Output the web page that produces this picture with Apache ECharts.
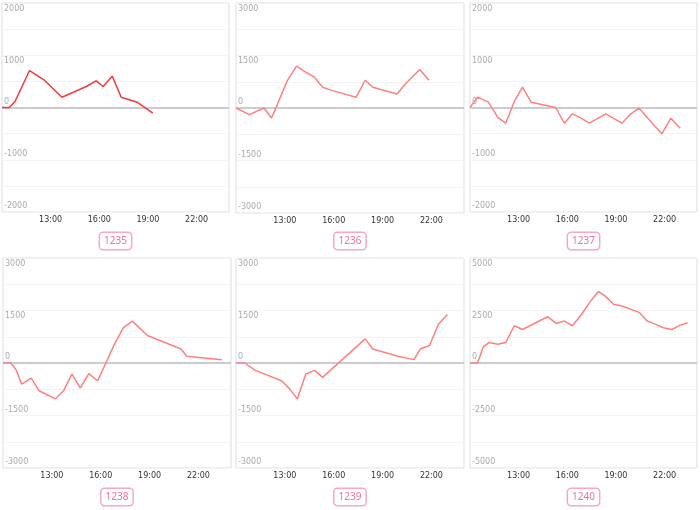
<!DOCTYPE html>
<html>
<head>
<meta charset="utf-8">
<script src="https://cdn.jsdelivr.net/npm/echarts@6/dist/echarts.min.js"></script>
<style>html,body{margin:0;padding:0;background:#fff}#c{width:700px;height:510px}</style>
</head>
<body>
<div id="c"></div>
<script>
// ---- data ----
const names = ['1235','1236','1237','1238','1239','1240'];
const yMax = [2000, 3000, 2000, 3000, 3000, 5000];
const xTickLabels = [13, 16, 19, 22];

const p1Times = ['10:00','10:27','10:48','11:42','12:38','13:42','15:12','15:48','16:14','16:48','17:21','18:20','19:18'];
const p1Vals  = [0,0,115,708,517,197,402,511,402,600,197,102,-108];

const p2Times = ['10:00','10:49','11:43','12:11','13:09','13:43','14:17','14:48','15:19','15:56','17:22','17:56','18:24','19:53','20:27','21:17','21:51'];
const p2Vals  = [0,-191,0,-287,783,1194,1022,888,592,497,306,793,592,401,716,1098,793];

const p3Times = ['10:00','10:28','11:08','11:43','12:12','12:44','13:14','13:46','15:17','15:49','16:19','16:51','17:21','18:23','19:22','19:55','20:26','20:58','21:50','22:23','22:58'];
const p3Vals  = [0,198,102,-191,-300,115,389,102,0,-300,-121,-204,-300,-121,-300,-121,-13,-204,-504,-204,-396];

const p4Times = ['10:00','10:29','10:48','11:09','11:44','12:13','13:13','13:43','14:14','14:45','15:16','15:49','16:51','17:23','17:56','18:52','20:56','21:17','23:26'];
const p4Vals  = [0,0,-191,-603,-431,-794,-1024,-794,-316,-718,-306,-507,545,1005,1196,785,402,191,96];

const p5Times = ['10:00','10:32','11:11','12:48','13:15','13:46','14:17','14:50','15:19','17:56','18:24','19:56','20:56','21:19','21:53','22:25','22:59'];
const p5Vals  = [0,0,-211,-507,-718,-1024,-316,-211,-411,689,402,191,96,402,498,1100,1388];

const p6Times = ['10:00','10:28','10:49','11:10','11:43','12:12','12:44','13:14','14:47','15:19','15:49','16:19','16:51','17:25','17:55','18:20','18:51','19:22','20:26','20:55','21:25','21:56','22:27','22:58','23:25'];
const p6Vals  = [0,0,767,974,895,974,1773,1597,2204,1885,1997,1773,2284,2923,3403,3195,2796,2716,2412,1997,1853,1677,1597,1805,1917];

const allTimes = [p1Times,p2Times,p3Times,p4Times,p5Times,p6Times];
const allVals  = [p1Vals,p2Vals,p3Vals,p4Vals,p5Vals,p6Vals];

// ---- layout ----
const grids = [
  {left:2,   top:3,   width:227, height:209},
  {left:236, top:3,   width:228, height:210},
  {left:470, top:3,   width:227, height:209},
  {left:3,   top:258, width:228, height:210},
  {left:236, top:258, width:228, height:210},
  {left:470, top:258, width:227, height:210}
];
const lineColors = ['#ee3b3b','#ff8080','#ff8080','#ff8080','#ff8080','#ff8080'];

function toHour(t){ const p = t.split(':'); return +p[0] + (+p[1])/60; }

const zeroSeries = grids.map((g,i) => ({
  type:'line', xAxisIndex:i, yAxisIndex:i, data:[], z:1, silent:true,
  markLine:{
    silent:true, symbol:'none', label:{show:false}, animation:false,
    lineStyle:{color:'#cccccc', width:2, type:'solid'},
    data:[{yAxis:0}]
  }
}));
const dataSeries = allTimes.map((ts,i) => ({
  type:'line', xAxisIndex:i, yAxisIndex:i,
  showSymbol:false, symbol:'none',
  lineStyle:{color:lineColors[i], width:1.5},
  data: ts.map((t,k) => [toHour(t), allVals[i][k]]),
  z:5
}));

const option = {
  animation:false,
  grid: grids.map(g => Object.assign({show:true, borderColor:'#dddddd', borderWidth:1, containLabel:false}, g)),
  xAxis: grids.map((g,i) => ({
    type:'value', gridIndex:i, min:10, max:24,
    axisLine:{show:false}, axisTick:{show:false}, splitLine:{show:false},
    axisLabel:{
      customValues: xTickLabels,
      formatter: v => v + ':00',
      fontSize:8, color:'#333', margin:4, fontFamily:'DejaVu Sans'
    }
  })),
  yAxis: grids.map((g,i) => {
    const M = yMax[i];
    return {
      type:'value', gridIndex:i, min:-M, max:M, interval:M/4,
      axisLine:{show:false}, axisTick:{show:false},
      splitLine:{show:true, lineStyle:{color:'#f3f3f3', width:1}},
      axisLabel:{
        inside:true, margin:2, fontSize:8, color:'#aaaaaa', fontFamily:'DejaVu Sans',
        formatter: v => {
          if (v % (M/2) !== 0) return '';
          return v > 0 ? '{d|' + v + '}' : '{u|' + v + '}';
        },
        rich:{
          d:{fontSize:8, color:'#aaaaaa', padding:[11,0,0,0], fontFamily:'DejaVu Sans'},
          u:{fontSize:8, color:'#aaaaaa', padding:[0,0,12,0], fontFamily:'DejaVu Sans'}
        }
      }
    };
  }),
  series: zeroSeries.concat(dataSeries),
  graphic: grids.map((g,i) => ({
    type:'text',
    x: g.left + g.width/2,
    y: i < 3 ? 241 : 497,
    style:{
      text: names[i],
      fill:'#f0709a',
      font:'10px "Noto Sans", sans-serif',
      align:'center', verticalAlign:'middle',
      borderColor:'#f8a8c0', borderWidth:1.5, borderRadius:3,
      padding:[3,4,3,4], backgroundColor:'#fff'
    }
  }))
};

const chart = echarts.init(document.getElementById('c'), null, {renderer:'canvas'});
chart.setOption(option);
</script>
</body>
</html>
